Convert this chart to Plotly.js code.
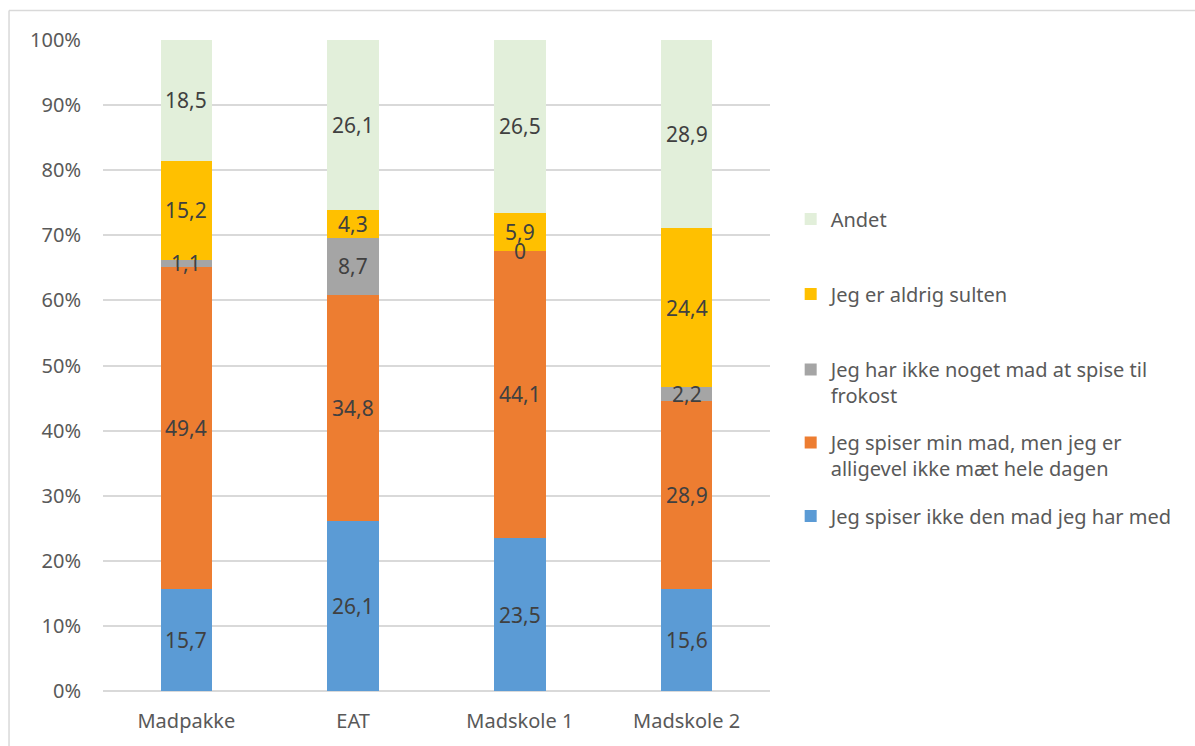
<!DOCTYPE html>
<html>
<head>
<meta charset="utf-8">
<script src="https://cdn.plot.ly/plotly-3.0.1.min.js"></script>
<style>
  html, body { margin: 0; padding: 0; background: #ffffff; }
  #chart { width: 1195px; height: 746px; }
</style>
</head>
<body>
<div id="chart"></div>
<script>
const categories = ["Madpakke", "EAT", "Madskole 1", "Madskole 2"];

const seriesNames = [
  "Jeg spiser ikke den mad jeg har med",
  "Jeg spiser min mad, men jeg er<br>alligevel ikke mæt hele dagen",
  "Jeg har ikke noget mad at spise til<br>frokost",
  "Jeg er aldrig sulten",
  "Andet"
];

const ikkeSpiser   = [15.7, 26.1, 23.5, 15.6];
const ikkeMaet     = [49.4, 34.8, 44.1, 28.9];
const ingenMad     = [1.1, 8.7, 0, 2.2];
const aldrigSulten = [15.2, 4.3, 5.9, 24.4];
const andet        = [18.5, 26.1, 26.5, 28.9];

const seriesValues = [ikkeSpiser, ikkeMaet, ingenMad, aldrigSulten, andet];
const seriesColors = ["#5b9bd5", "#ed7d31", "#a5a5a5", "#ffc000", "#e2efda"];

const FONT = "Noto Sans, Open Sans, sans-serif";
const fmt = v => v.toString().replace('.', ',');

// legend positions (paper y) per series
const legendIds = ["legend5", "legend4", "legend3", "legend2", "legend"];
const legendY = [0.2688, 0.3618, 0.4739, 0.6098, 0.7250];

const traces = seriesValues.map((vals, i) => ({
  type: 'bar',
  name: seriesNames[i],
  x: categories,
  y: vals,
  marker: { color: seriesColors[i], line: { width: 0 } },
  legend: legendIds[i],
  hoverinfo: 'x+y+name'
}));

// totals for normalization
const totals = categories.map((_, c) => seriesValues.reduce((s, arr) => s + arr[c], 0));

// data labels drawn on top of every segment (centered in each segment)
const annotations = [];
seriesValues.forEach((vals, i) => {
  vals.forEach((v, c) => {
    let cum = 0;
    for (let k = 0; k < i; k++) cum += seriesValues[k][c];
    annotations.push({
      x: categories[c], y: (cum + v / 2) / totals[c] * 100, xref: 'x', yref: 'y',
      text: fmt(v), showarrow: false, yanchor: 'middle', xanchor: 'center',
      font: { family: FONT, size: 21, color: '#404040' }
    });
  });
});

const legendBase = {
  x: 1.031, xanchor: 'left', yanchor: 'middle', valign: 'top',
  bgcolor: 'rgba(0,0,0,0)', borderwidth: 0,
  font: { family: FONT, size: 20, color: '#595959' },
  itemclick: false, itemdoubleclick: false
};

const layout = {
  width: 1195, height: 746,
  margin: { l: 103, r: 425, t: 40, b: 55, pad: 0 },
  paper_bgcolor: '#ffffff', plot_bgcolor: '#ffffff',
  barmode: 'stack', barnorm: 'percent', bargap: 0.69,
  font: { family: FONT, size: 20, color: '#595959' },
  showlegend: true,
  xaxis: {
    type: 'category', showgrid: false, showline: false, zeroline: false,
    ticks: '', ticklabelstandoff: 16,
    tickfont: { family: FONT, size: 20, color: '#595959' }
  },
  yaxis: {
    range: [0, 100], dtick: 10, ticksuffix: '%',
    showgrid: true, gridcolor: '#d9d9d9', gridwidth: 1.5,
    zeroline: true, zerolinecolor: '#d9d9d9', zerolinewidth: 1.5,
    showline: false, ticks: '', ticklabelstandoff: 21,
    tickfont: { family: FONT, size: 20, color: '#595959' }
  },
  annotations: annotations,
  shapes: [
    { type: 'line', xref: 'paper', yref: 'paper', x0: -0.1409, x1: 1.64, y0: 1.0453, y1: 1.0453,
      line: { color: '#d9d9d9', width: 1.5 } },
    { type: 'line', xref: 'paper', yref: 'paper', x0: -0.1409, x1: -0.1409, y0: 1.0453, y1: -0.1,
      line: { color: '#d9d9d9', width: 1.5 } }
  ]
};

legendIds.forEach((id, i) => {
  layout[id] = Object.assign({}, legendBase, { y: legendY[i] });
});

Plotly.newPlot('chart', traces, layout, { displayModeBar: false });
</script>
</body>
</html>
